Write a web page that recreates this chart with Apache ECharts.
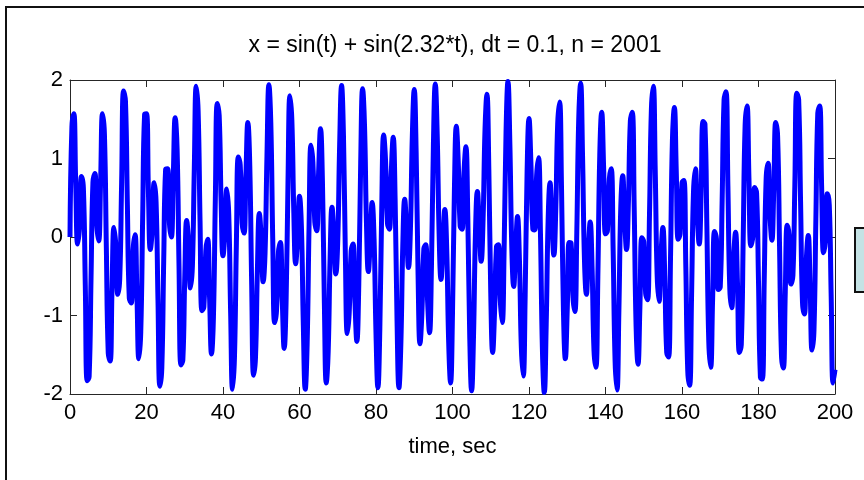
<!DOCTYPE html>
<html>
<head>
<meta charset="utf-8">
<title>x = sin(t) + sin(2.32*t)</title>
<script src="https://cdn.jsdelivr.net/npm/echarts@6/dist/echarts.min.js"></script>
<style>
    html, body { margin: 0; padding: 0; background: #fff; }
    #signalChart { width: 864px; height: 480px; }
</style>
</head>
<body>
<div id="signalChart"></div>
<script>
// signal samples read every 0.5 s, t = 0 .. 200
var sampleStep = 0.5;
var signalValues = [
    0, 1.40, 1.57, 0.67, -0.09, 0.13, 0.77, 0.62, -0.62, -1.83, -1.78, -0.52, 0.70,
    0.81, 0.15, -0.05, 0.70, 1.57, 1.31, -0.13, -1.48, -1.58, -0.62, 0.12, -0.12, -0.73,
    -0.53, 0.70, 1.86, 1.73, 0.41, -0.78, -0.84, -0.16, 0.03, -0.74, -1.55, -1.21,
    0.25, 1.56, 1.57, 0.58, -0.16, 0.09, 0.69, 0.45, -0.80, -1.90, -1.67, -0.30, 0.86,
    0.87, 0.17, 0.00, 0.77, 1.52, 1.12, -0.37, -1.63, -1.57, -0.52, 0.21, -0.07,
    -0.65, -0.37, 0.88, 1.92, 1.60, 0.20, -0.94, -0.89, -0.18, -0.03, -0.79, -1.49, -1.02,
    0.49, 1.70, 1.55, 0.46, -0.24, 0.05, 0.61, 0.29, -0.97, -1.94, -1.53, -0.08,
    1.02, 0.92, 0.18, 0.05, 0.81, 1.46, 0.91, -0.61, -1.76, -1.53, -0.40, 0.30, -0.02,
    -0.57, -0.20, 1.04, 1.94, 1.45, -0.02, -1.09, -0.93, -0.19, -0.07, -0.82, -1.42, -0.81,
    0.73, 1.80, 1.49, 0.34, -0.34, 0.00, 0.52, 0.13, -1.12, -1.94, -1.36, 0.14,
    1.17, 0.95, 0.19, 0.08, 0.83, 1.38, 0.70, -0.84, -1.86, -1.46, -0.27, 0.38, 0.03,
    -0.47, -0.05, 1.18, 1.93, 1.28, -0.26, -1.23, -0.96, -0.18, -0.09, -0.83, -1.33,
    -0.60, 0.95, 1.89, 1.42, 0.19, -0.44, -0.05, 0.44, -0.03, -1.23, -1.92, -1.17, 0.37,
    1.30, 0.97, 0.17, 0.10, 0.83, 1.27, 0.48, -1.06, -1.92, -1.36, -0.12, 0.48,
    0.08, -0.39, 0.10, 1.29, 1.88, 1.07, -0.48, -1.36, -0.97, -0.15, -0.10, -0.83, -1.22,
    -0.37, 1.15, 1.95, 1.31, 0.04, -0.54, -0.10, 0.35, -0.17, -1.34, -1.86, -0.97, 0.60,
    1.41, 0.96, 0.14, 0.10, 0.82, 1.15, 0.26, -1.25, -1.96, -1.25, 0.04, 0.58,
    0.14, -0.31, 0.23, 1.37, 1.82, 0.86, -0.71, -1.47, -0.95, -0.12, -0.10, -0.81, -1.09,
    -0.15, 1.34, 1.98, 1.18, -0.13, -0.63, -0.16, 0.26, -0.29, -1.41, -1.77, -0.74,
    0.82, 1.51, 0.94, 0.10, 0.09, 0.79, 1.01, 0.04, -1.42, -1.98, -1.11, 0.21, 0.69,
    0.18, -0.23, 0.35, 1.44, 1.72, 0.63, -0.93, -1.55, -0.92, -0.07, -0.08, -0.77,
    -0.95, 0.07, 1.50, 1.96, 1.03, -0.29, -0.73, -0.20, 0.19, -0.41, -1.45, -1.66, -0.51,
    1.04, 1.59, 0.90, 0.04, 0.08, 0.74, 0.87, -0.17, -1.57, -1.95, -0.94, 0.39, 0.78,
    0.22, -0.16, 0.46, 1.48, 1.59, 0.38, -1.14, -1.62, -0.88, -0.01, -0.06, -0.72,
    -0.80, 0.28, 1.63, 1.92, 0.85, -0.48, -0.82, -0.24, 0.12, -0.50, -1.47, -1.53, -0.26,
    1.24, 1.65, 0.84, -0.03, 0.04, 0.69, 0.72, -0.38, -1.70, -1.89, -0.75, 0.57,
    0.87, 0.26, -0.09, 0.54, 1.47, 1.44, 0.14, -1.33, -1.66, -0.80, 0.07, -0.02, -0.67,
    -0.64, 0.47, 1.75, 1.85, 0.65, -0.66, -0.90, -0.26, 0.06, -0.58, -1.47, -1.37,
    -0.02, 1.42, 1.67, 0.75, -0.11, 0.00, 0.63, 0.56, -0.57, -1.79, -1.81, -0.54, 0.74,
    0.94, 0.28, -0.04, 0.61, 1.46, 1.28, -0.11, -1.50, -1.67, -0.70, 0.15, 0.02,
    -0.60, -0.49, 0.66, 1.83, 1.75, 0.45, -0.83, -0.98, -0.29, 0.02, -0.64, -1.44, -1.19,
    0.23, 1.58, 1.67, 0.65, -0.20, -0.05, 0.55, 0.41, -0.75, -1.86, -1.69
];
var xTicks = [0, 20, 40, 60, 80, 100, 120, 140, 160, 180, 200];
var yTicks = [-2, -1, 0, 1, 2];
var titleText = 'x = sin(t) + sin(2.32*t), dt = 0.1, n = 2001';
var xName = 'time, sec';

var fontName = '"Liberation Sans", Arial, Helvetica, sans-serif';
var axisColor = '#262626';

var seriesData = signalValues.map(function (v, i) {
    return [i * sampleStep, v];
});

var myChart = echarts.init(document.getElementById('signalChart'), null, { renderer: 'canvas' });

function boxAxis(pos, isX, showLabels) {
    var ticks = isX ? xTicks : yTicks;
    return {
        type: 'value',
        position: pos,
        min: ticks[0],
        max: ticks[ticks.length - 1],
        interval: ticks[1] - ticks[0],
        axisLine: { show: true, onZero: false, lineStyle: { color: axisColor, width: 1 } },
        axisTick: { show: true, inside: true, length: 7, lineStyle: { color: axisColor, width: 1 } },
        axisLabel: {
            show: showLabels,
            color: '#000',
            fontSize: 22,
            fontFamily: fontName,
            margin: isX ? 8 : 7
        },
        splitLine: { show: false }
    };
}

var bottomAxis = boxAxis('bottom', true, true);
bottomAxis.name = xName;
bottomAxis.nameLocation = 'middle';
bottomAxis.nameGap = 42;
bottomAxis.nameTextStyle = { color: '#000', fontSize: 22, fontFamily: fontName };

var option = {
    animation: false,
    backgroundColor: '#fff',
    title: {
        text: titleText,
        left: 450,
        top: 29,
        textAlign: 'center',
        textStyle: { color: '#000', fontSize: 23, fontWeight: 'normal', fontFamily: fontName }
    },
    grid: { left: 70, top: 80, width: 765, height: 314 },
    xAxis: [bottomAxis, boxAxis('top', true, false)],
    yAxis: [boxAxis('left', false, true), boxAxis('right', false, false)],
    graphic: [
        {
            type: 'rect',
            z: -1,
            shape: { x: 6, y: 7, width: 900, height: 520 },
            style: { fill: null, stroke: '#111', lineWidth: 2 }
        },
        {
            type: 'rect',
            shape: { x: 855, y: 228, width: 20, height: 64 },
            style: { fill: '#c4e2e4', stroke: '#111', lineWidth: 2 }
        }
    ],
    series: [
        {
            type: 'line',
            xAxisIndex: 0,
            yAxisIndex: 0,
            data: seriesData,
            showSymbol: false,
            smooth: 0.45,
            clip: true,
            lineStyle: { color: '#0000ff', width: 5 }
        }
    ]
};

myChart.setOption(option);
</script>
</body>
</html>
